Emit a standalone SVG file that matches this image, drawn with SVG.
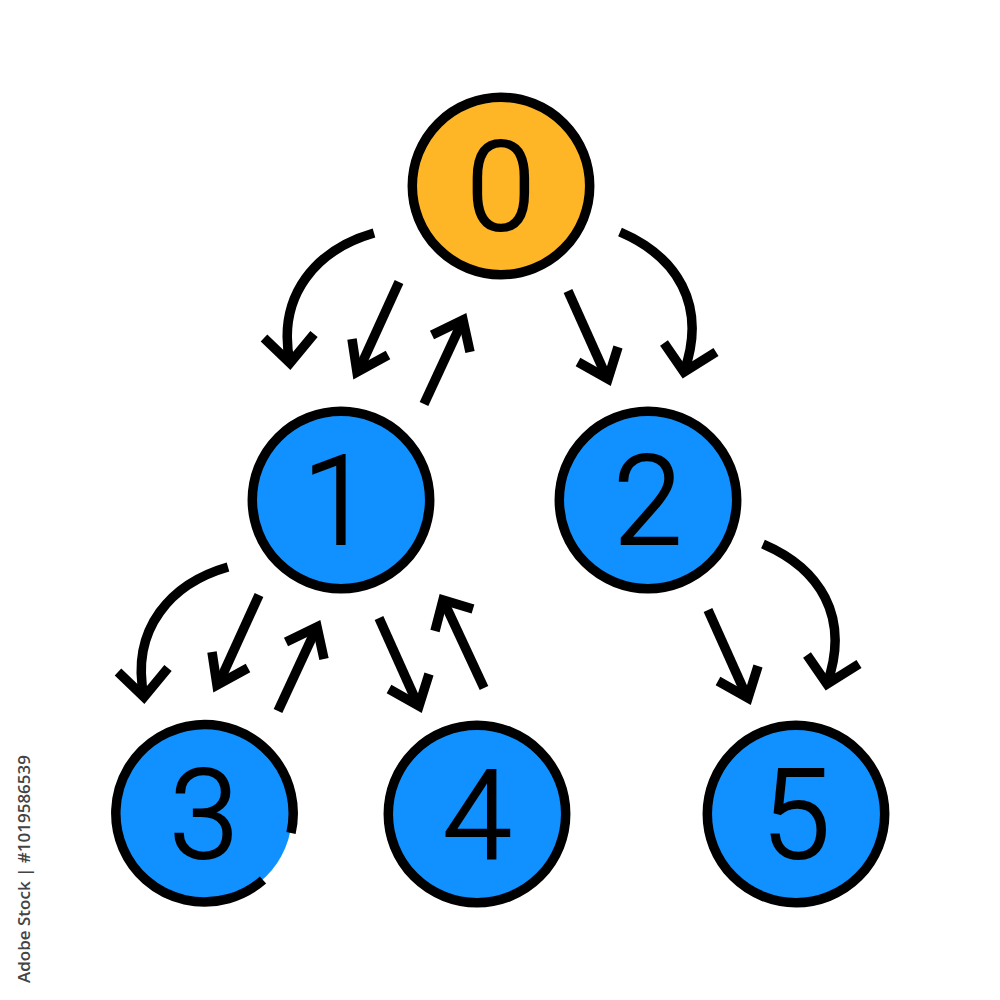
<svg xmlns="http://www.w3.org/2000/svg" width="1000" height="1000" viewBox="0 0 1000 1000">
<style>
.c{stroke:#000;stroke-width:9.5;fill:#1190ff}
.o{fill:#ffb626}
.a{fill:none;stroke:#000;stroke-width:9.5}
.n{font-family:"Roboto","Liberation Sans",sans-serif;font-size:124px;font-weight:300;text-anchor:middle;fill:#000;stroke:#000;stroke-width:2.2px}
.w{font-family:"Open Sans","Liberation Sans",sans-serif;font-size:17px;font-weight:600;fill:#444;text-anchor:end}
</style>
<defs>
<g id="curveL" class="a"><path d="M374 233C318 249 276 294 290 363"/><path d="M264 338L290 363L314 334"/></g>
<g id="down" class="a"><path d="M399 282L358 372"/><path d="M352 339L357 372L388 355"/></g>
<g id="up" class="a"><path d="M424 404L462 322"/><path d="M432 335L463 320L470 352"/></g>
<g id="right" class="a"><path d="M568 291L607 378"/><path d="M578 362L608 379L618 347"/></g>
<g id="curveR" class="a"><path d="M620 232C676 256 708 304 684 372"/><path d="M664 343L684 372L716 352"/></g>
</defs>
<g id="connectors">
<use href="#curveL"/>
<use href="#down"/>
<use href="#up"/>
<use href="#right"/>
<use href="#curveR"/>
<use href="#curveL" x="-146" y="334"/>
<use href="#down" x="-140" y="313"/>
<use href="#up" x="-146" y="307"/>
<use href="#right" x="-189" y="327"/>
<path class="a" d="M484 688L444 602"/><path class="a" d="M435 631L443 600L473 609"/>
<use href="#right" x="140" y="319"/>
<use href="#curveR" x="143" y="312"/>
</g>
<g id="node0"><circle class="c o" cx="501" cy="186" r="88.7"/><text class="n" x="501" y="230">0</text></g>
<g id="node1"><circle class="c" cx="341" cy="500" r="88.7"/><text class="n" x="337" y="544">1</text></g>
<g id="node2"><circle class="c" cx="648" cy="500" r="88.7"/><text class="n" x="648" y="544">2</text></g>
<g id="node3"><circle cx="204" cy="814" r="88" fill="#1190ff"/><path class="a" d="M291 833A88.7 88.7 0 1 0 263 880"/><text class="n" x="204" y="858">3</text></g>
<g id="node4"><circle class="c" cx="477" cy="814" r="88.7"/><text class="n" x="477" y="858">4</text></g>
<g id="node5"><circle class="c" cx="796" cy="814" r="88.7"/><text class="n" x="796" y="858">5</text></g>
<text class="w" transform="translate(30 755) rotate(-90)">Adobe Stock | #1019586539</text>
</svg>
